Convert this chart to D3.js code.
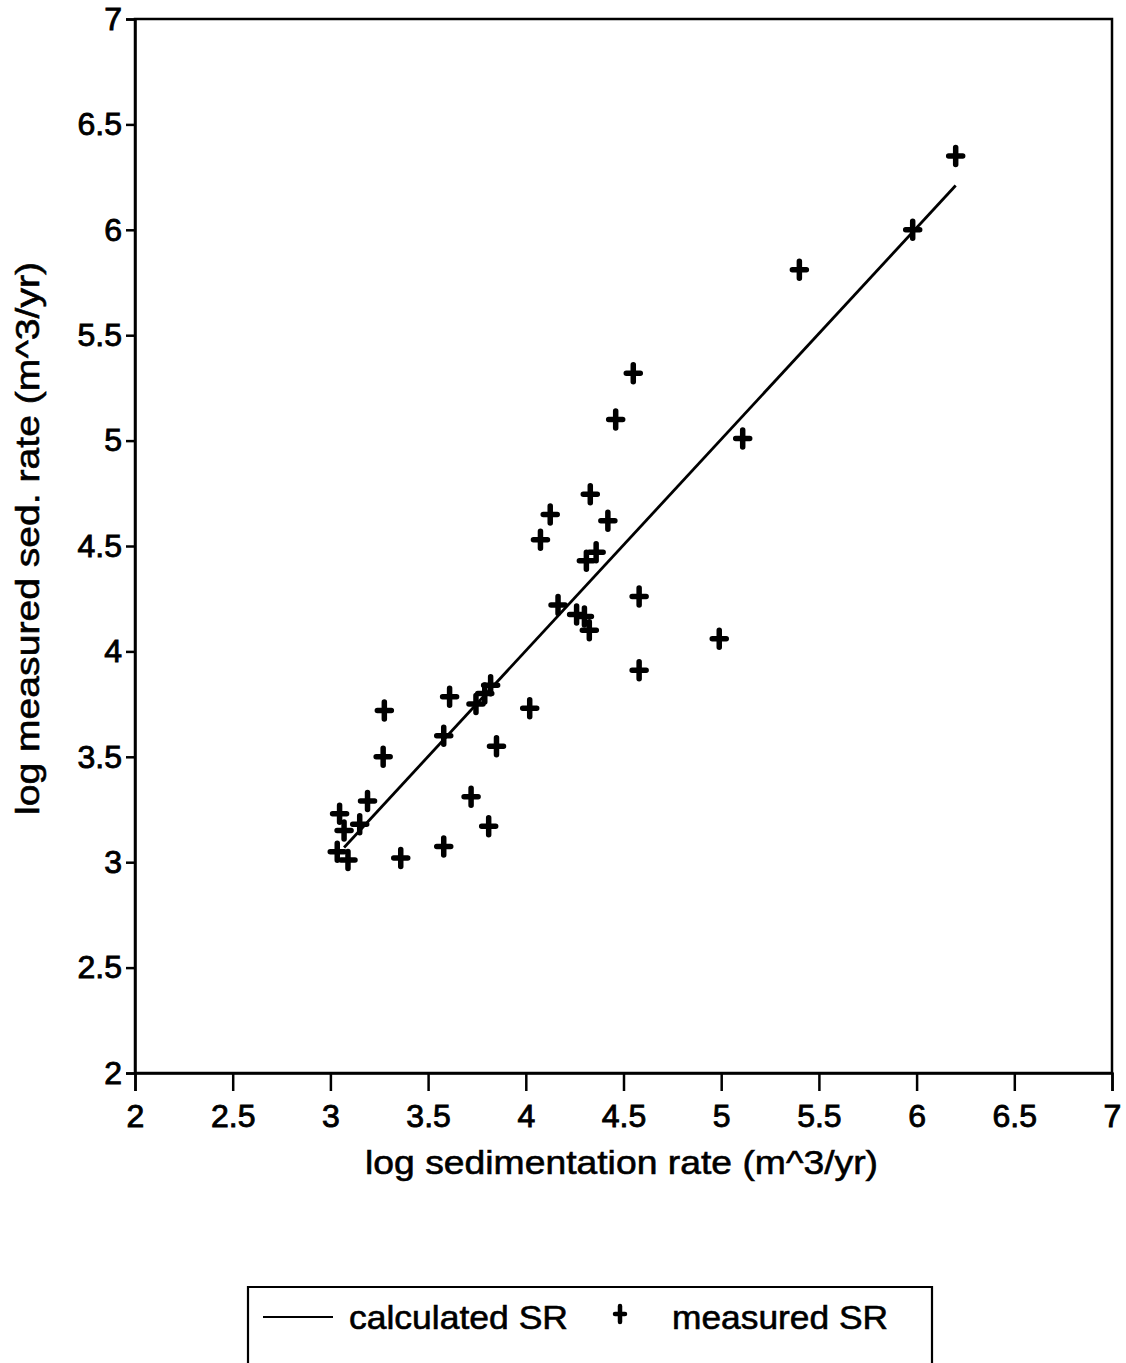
<!DOCTYPE html>
<html>
<head>
<meta charset="utf-8">
<script src="https://cdn.jsdelivr.net/npm/d3@7"></script>
<style>
  html, body { margin: 0; padding: 0; background: #fff; }
  text { font-family: "Liberation Sans", Arial, Helvetica, sans-serif; fill: #000; }
</style>
</head>
<body>
<svg id="chart" width="1126" height="1363"></svg>
<script>
// ---- data ----
const xTickValues = [2, 2.5, 3, 3.5, 4, 4.5, 5, 5.5, 6, 6.5, 7];
const xTickLabels = ["2", "2.5", "3", "3.5", "4", "4.5", "5", "5.5", "6", "6.5", "7"];
const yTickValues = [2, 2.5, 3, 3.5, 4, 4.5, 5, 5.5, 6, 6.5, 7];
const yTickLabels = ["2", "2.5", "3", "3.5", "4", "4.5", "5", "5.5", "6", "6.5", "7"];

const measuredX = [3.276, 3.27, 3.61, 3.58, 3.745, 3.79, 3.82, 4.02, 3.85, 3.72,
                   3.81, 3.58, 3.36, 3.19, 3.047, 3.07, 3.15, 3.035, 3.09,
                   4.33, 4.125, 4.42, 4.075, 4.36, 4.31, 4.165, 4.26, 4.3, 4.325,
                   4.58, 4.58, 4.46, 4.55, 5.11, 4.99, 5.4, 5.98, 6.2];
const measuredY = [3.72, 3.50, 3.785, 3.60, 3.75, 3.80, 3.84, 3.73, 3.55, 3.31,
                   3.17, 3.075, 3.02, 3.29, 3.23, 3.15, 3.18, 3.05, 3.01,
                   4.745, 4.65, 4.62, 4.53, 4.47, 4.43, 4.22, 4.175, 4.165, 4.10,
                   4.26, 3.91, 5.10, 5.32, 5.01, 4.06, 5.81, 6.0, 6.35];

const calcX = [3.07, 6.2];
const calcY = [3.07, 6.21];

const xTitle = "log sedimentation rate (m^3/yr)";
const yTitle = "log measured sed. rate (m^3/yr)";
const legendLabels = ["calculated SR", "measured SR"];

// ---- layout ----
(function () {
const svg = d3.select("#chart");
svg.append("rect").attr("width", 1126).attr("height", 1363).attr("fill", "#fff");

const pl = 135, pr = 1112, pt = 19, pb = 1073;
const x = d3.scaleLinear().domain([2, 7]).range([pl, pr]);
const y = d3.scaleLinear().domain([2, 7]).range([pb, pt]);

// frame
svg.append("rect")
  .attr("x", pl).attr("y", pt)
  .attr("width", pr - pl).attr("height", pb - pt)
  .attr("fill", "none").attr("stroke", "#000").attr("stroke-width", 2.5);

// x axis
const xAxis = d3.axisBottom(x)
  .tickValues(xTickValues)
  .tickFormat((d, i) => xTickLabels[i])
  .tickSize(18).tickPadding(13);
const gx = svg.append("g").attr("transform", `translate(0,${pb})`).call(xAxis);
gx.select(".domain").attr("stroke-width", 2.5);
gx.selectAll(".tick line").attr("stroke-width", 2.5);
gx.selectAll(".tick text")
  .style("font-size", "32px")
  .style("font-family", "'Liberation Sans', Arial, sans-serif")
  .attr("stroke", "#000").attr("stroke-width", 0.9);

// y axis
const yAxis = d3.axisLeft(y)
  .tickValues(yTickValues)
  .tickFormat((d, i) => yTickLabels[i])
  .tickSize(9).tickPadding(4);
const gy = svg.append("g").attr("transform", `translate(${pl},0)`).call(yAxis);
gy.select(".domain").attr("stroke-width", 2.5);
gy.selectAll(".tick line").attr("stroke-width", 2.5);
gy.selectAll(".tick text")
  .style("font-size", "32px")
  .style("font-family", "'Liberation Sans', Arial, sans-serif")
  .attr("stroke", "#000").attr("stroke-width", 0.9);

// axis titles
svg.append("text")
  .attr("x", 365).attr("y", 1174)
  .attr("textLength", 513).attr("lengthAdjust", "spacingAndGlyphs")
  .style("font-size", "34px")
  .attr("stroke", "#000").attr("stroke-width", 0.6)
  .text(xTitle);

svg.append("text")
  .attr("transform", "translate(39,815) rotate(-90)")
  .attr("x", 0).attr("y", 0)
  .attr("textLength", 553).attr("lengthAdjust", "spacingAndGlyphs")
  .style("font-size", "34px")
  .attr("stroke", "#000").attr("stroke-width", 0.6)
  .text(yTitle);

// calculated line
const line = d3.line().x(d => x(d[0])).y(d => y(d[1]));
svg.append("path")
  .datum(calcX.map((v, i) => [v, calcY[i]]))
  .attr("d", line)
  .attr("fill", "none").attr("stroke", "#000").attr("stroke-width", 2.8);

// measured markers
function plusPath(hw, hh) {
  return `M${-hw},0L${hw},0M0,${-hh}L0,${hh}`;
}
svg.append("g").selectAll("path")
  .data(measuredX.map((v, i) => [v, measuredY[i]]))
  .join("path")
  .attr("transform", d => `translate(${x(d[0])},${y(d[1])})`)
  .attr("d", plusPath(7, 8.5))
  .attr("fill", "none").attr("stroke", "#000")
  .attr("stroke-width", 5.5).attr("stroke-linecap", "round");

// legend
const lg = svg.append("g");
lg.append("path")
  .attr("d", "M248,1363L248,1287L932,1287L932,1363")
  .attr("fill", "none").attr("stroke", "#000").attr("stroke-width", 2.2);
lg.append("line")
  .attr("x1", 263).attr("x2", 333).attr("y1", 1317).attr("y2", 1317)
  .attr("stroke", "#000").attr("stroke-width", 2.2);
lg.append("text")
  .attr("x", 349).attr("y", 1329)
  .attr("textLength", 219).attr("lengthAdjust", "spacingAndGlyphs")
  .style("font-size", "33px")
  .attr("stroke", "#000").attr("stroke-width", 0.6)
  .text(legendLabels[0]);
lg.append("path")
  .attr("transform", "translate(620,1314)")
  .attr("d", plusPath(5, 8))
  .attr("fill", "none").attr("stroke", "#000")
  .attr("stroke-width", 4.5).attr("stroke-linecap", "round");
lg.append("text")
  .attr("x", 672).attr("y", 1329)
  .attr("textLength", 216).attr("lengthAdjust", "spacingAndGlyphs")
  .style("font-size", "33px")
  .attr("stroke", "#000").attr("stroke-width", 0.6)
  .text(legendLabels[1]);
})();
</script>
</body>
</html>
